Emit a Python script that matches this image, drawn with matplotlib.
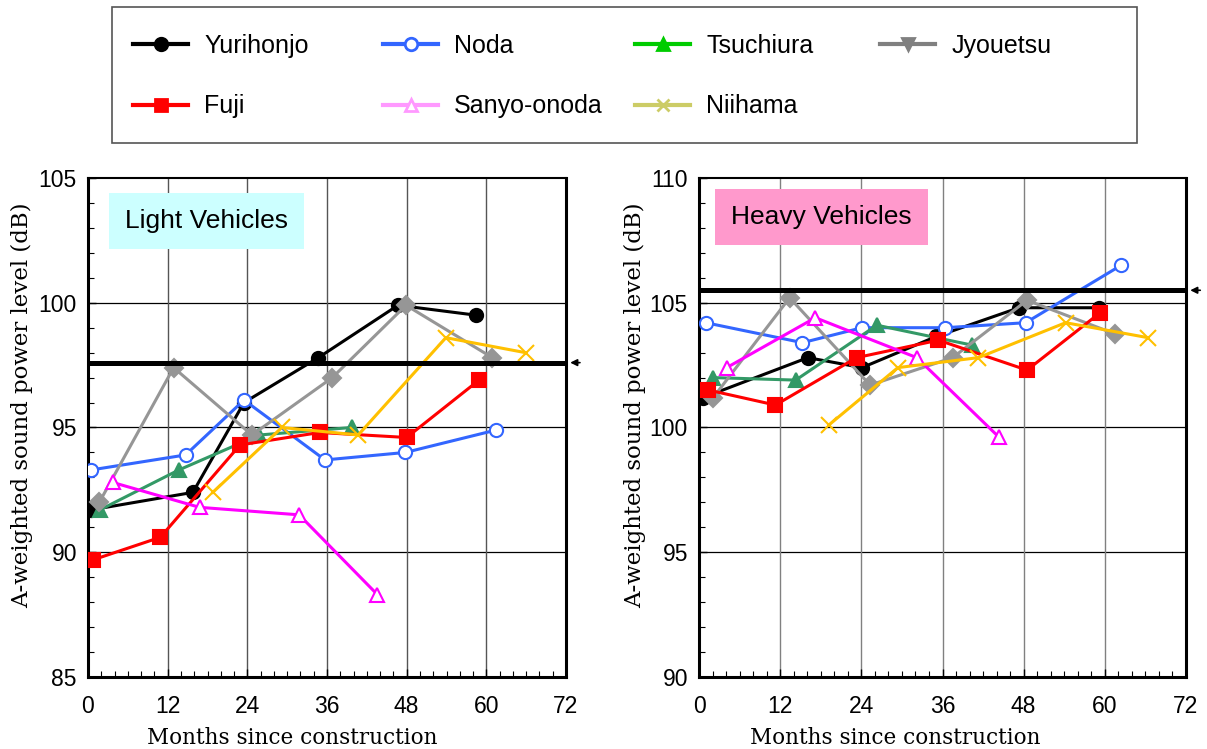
import matplotlib
matplotlib.use("Agg")
import matplotlib.pyplot as plt
from matplotlib.lines import Line2D
from matplotlib.patches import Rectangle
from matplotlib.ticker import MultipleLocator

# site names
sites = ['Yurihonjo', 'Noda', 'Tsuchiura', 'Jyouetsu', 'Fuji', 'Sanyo-onoda', 'Niihama']

# light vehicles (months, dB)
yuri_L_m = [0.5, 15.8, 23.5, 34.7, 46.7, 58.5]
yuri_L_db = [91.7, 92.4, 96.0, 97.8, 99.9, 99.5]
noda_L_m = [0.5, 14.7, 23.5, 35.7, 47.8, 61.5]
noda_L_db = [93.3, 93.9, 96.1, 93.7, 94.0, 94.9]
tsu_L_m = [1.8, 13.7, 25.8, 39.7]
tsu_L_db = [91.7, 93.3, 94.7, 95.0]
jyo_L_m = [1.7, 12.9, 24.7, 36.8, 47.9, 60.9]
jyo_L_db = [92.0, 97.4, 94.7, 97.0, 99.9, 97.8]
fuji_L_m = [0.8, 10.9, 22.9, 34.9, 48.0, 58.9]
fuji_L_db = [89.7, 90.6, 94.3, 94.8, 94.6, 96.9]
sanyo_L_m = [3.7, 16.8, 31.8, 43.6]
sanyo_L_db = [92.8, 91.8, 91.5, 88.3]
nii_L_m = [18.8, 29.2, 40.7, 53.9, 65.9]
nii_L_db = [92.4, 95.0, 94.7, 98.6, 98.0]
ref_L = 97.6

# heavy vehicles (months, dB)
yuri_H_m = [0.6, 16.1, 24.1, 35.1, 47.3, 59.2]
yuri_H_db = [101.2, 102.8, 102.4, 103.65, 104.8, 104.8]
noda_H_m = [1.0, 15.3, 24.1, 36.4, 48.3, 62.4]
noda_H_db = [104.2, 103.4, 104.0, 104.0, 104.2, 106.5]
tsu_H_m = [2.1, 14.3, 26.3, 40.4]
tsu_H_db = [102.0, 101.9, 104.1, 103.3]
jyo_H_m = [2.1, 13.4, 25.3, 37.5, 48.5, 61.5]
jyo_H_db = [101.2, 105.2, 101.7, 102.8, 105.1, 103.75]
fuji_H_m = [1.4, 11.3, 23.3, 35.4, 48.5, 59.3]
fuji_H_db = [101.5, 100.9, 102.8, 103.5, 102.3, 104.6]
sanyo_H_m = [4.1, 17.2, 32.2, 44.4]
sanyo_H_db = [102.4, 104.4, 102.8, 99.6]
nii_H_m = [19.2, 29.4, 41.3, 54.2, 66.4]
nii_H_db = [100.1, 102.4, 102.8, 104.2, 103.6]
ref_H = 105.5

x_ticks = [0, 12, 24, 36, 48, 60, 72]

# plot styles (colour, marker, open marker?)
styles = {
    'Yurihonjo': ('black', 'o', False),
    'Noda': ('#3366FF', 'o', True),
    'Tsuchiura': ('#339966', '^', False),
    'Jyouetsu': ('#969696', 'D', False),
    'Fuji': ('#FF0000', 's', False),
    'Sanyo-onoda': ('#FF00FF', '^', True),
    'Niihama': ('#FFC000', 'x', False),
}
# the legend uses somewhat different colours/markers
leg_styles = {
    'Yurihonjo': ('black', 'o', False),
    'Noda': ('#3366FF', 'o', True),
    'Tsuchiura': ('#00CC00', '^', False),
    'Jyouetsu': ('#808080', 'v', False),
    'Fuji': ('#FF0000', 's', False),
    'Sanyo-onoda': ('#FF99FF', '^', True),
    'Niihama': ('#CCCC66', 'x', False),
}

light = {
    'Yurihonjo': (yuri_L_m, yuri_L_db),
    'Noda': (noda_L_m, noda_L_db),
    'Tsuchiura': (tsu_L_m, tsu_L_db),
    'Jyouetsu': (jyo_L_m, jyo_L_db),
    'Fuji': (fuji_L_m, fuji_L_db),
    'Sanyo-onoda': (sanyo_L_m, sanyo_L_db),
    'Niihama': (nii_L_m, nii_L_db),
}
heavy = {
    'Yurihonjo': (yuri_H_m, yuri_H_db),
    'Noda': (noda_H_m, noda_H_db),
    'Tsuchiura': (tsu_H_m, tsu_H_db),
    'Jyouetsu': (jyo_H_m, jyo_H_db),
    'Fuji': (fuji_H_m, fuji_H_db),
    'Sanyo-onoda': (sanyo_H_m, sanyo_H_db),
    'Niihama': (nii_H_m, nii_H_db),
}

tick_font = 'Liberation Sans'
label_font = 'DejaVu Serif'

fig = plt.figure(figsize=(12.07, 7.49), dpi=100)
ax1 = fig.add_axes([88 / 1207, 72 / 749, 478 / 1207, 499 / 749])
ax2 = fig.add_axes([699 / 1207, 72 / 749, 487 / 1207, 499 / 749])


def draw_panel(ax, data, ylo, yhi, ref, title, box_color, vgrid_color,
               title_xy, xlab_x, ylab_x):
    ax.set_xlim(0, 72)
    ax.set_ylim(ylo, yhi)
    ax.set_xticks(x_ticks)
    ax.yaxis.set_major_locator(MultipleLocator(5))
    ax.yaxis.set_minor_locator(MultipleLocator(1))
    ax.xaxis.set_minor_locator(MultipleLocator(2))
    for y in range(ylo + 5, yhi, 5):
        ax.axhline(y, color='black', lw=0.9, zorder=1)
    for x in x_ticks[1:-1]:
        ax.axvline(x, color=vgrid_color, lw=1.0, zorder=1)
    for name in sites:
        col, mk, hollow = styles[name]
        m, db = data[name]
        ax.plot(m, db, color=col, lw=2.2, marker=mk,
                markersize=9.5 if mk != 'x' else 12,
                markerfacecolor='white' if hollow else col,
                markeredgecolor=col, markeredgewidth=1.5, zorder=3)
    ax.axhline(ref, color='black', lw=3.6, zorder=4)
    ax.annotate('', xy=(1.003, ref), xytext=(1.035, ref),
                xycoords=ax.get_yaxis_transform(),
                textcoords=ax.get_yaxis_transform(),
                arrowprops=dict(arrowstyle='-|>', color='black', lw=1.2,
                                mutation_scale=10), annotation_clip=False)
    ax.text(title_xy[0], title_xy[1], title, transform=ax.transAxes, fontsize=19,
            family=tick_font, va='center', ha='left', zorder=5,
            bbox=dict(boxstyle='square,pad=0.6', fc=box_color, ec='none'))
    for s in ax.spines.values():
        s.set_linewidth(2.2)
    ax.spines['top'].set_linewidth(1.5)
    ax.tick_params(which='both', direction='in', top=False, right=False)
    ax.tick_params(which='major', length=6, width=1, labelsize=16.5)
    ax.tick_params(axis='x', which='major', pad=13)
    ax.tick_params(axis='y', which='major', pad=8)
    ax.tick_params(which='minor', length=4, width=0.8)
    for lab in ax.get_xticklabels() + ax.get_yticklabels():
        lab.set_family(tick_font)
    ax.set_xlabel('Months since construction', family=label_font, fontsize=15.5)
    ax.set_ylabel('A-weighted sound power level (dB)', family=label_font, fontsize=16.5)
    ax.xaxis.set_label_coords(xlab_x, -0.1)
    ax.yaxis.set_label_coords(ylab_x, 0.545)


draw_panel(ax1, light, 85, 105, ref_L, 'Light Vehicles', '#CCFFFF', '#555555',
           (0.078, 0.914), 0.427, -0.115)
draw_panel(ax2, heavy, 90, 110, ref_H, 'Heavy Vehicles', '#FF99CC', '#808080',
           (0.066, 0.922), 0.402, -0.109)

# legend frame
fig.patches.append(Rectangle((112 / 1207, 1 - 143 / 749), 1025 / 1207, 136 / 749,
                             transform=fig.transFigure, fill=False,
                             edgecolor='#555555', lw=1.2))


def leg_handle(name):
    col, mk, hollow = leg_styles[name]
    return Line2D([], [], color=col, lw=3, marker=mk, markersize=9,
                  markerfacecolor='white' if hollow else col,
                  markeredgecolor=col, markeredgewidth=2)


columns = [(['Yurihonjo', 'Fuji'], 133), (['Noda', 'Sanyo-onoda'], 383),
           (['Tsuchiura', 'Niihama'], 635), (['Jyouetsu'], 880)]
for names, xpx in columns:
    leg = fig.legend([leg_handle(n) for n in names], names,
                     loc='upper left', bbox_to_anchor=(xpx / 1207, 1 - 34 / 749),
                     frameon=False, borderpad=0, borderaxespad=0,
                     handlelength=2.2, handletextpad=0.65, labelspacing=1.45,
                     prop={'family': tick_font, 'size': 18})

fig.savefig('out.png', dpi=100)
